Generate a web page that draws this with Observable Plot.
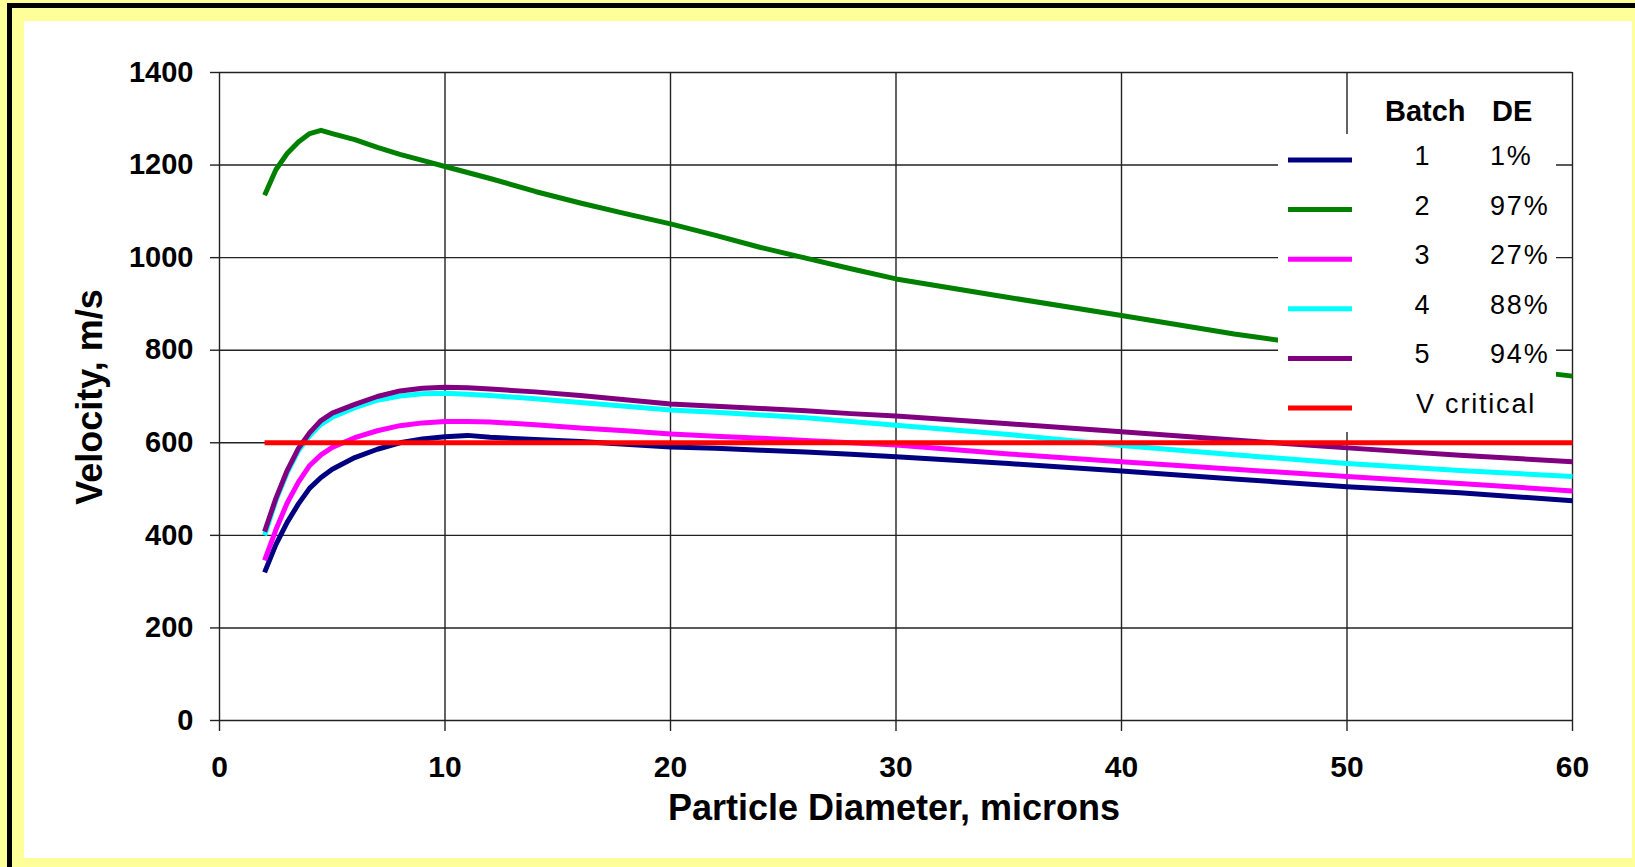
<!DOCTYPE html>
<html>
<head>
<meta charset="utf-8">
<script src="https://cdn.jsdelivr.net/npm/d3@7"></script>
<script src="https://cdn.jsdelivr.net/npm/@observablehq/plot@0.6"></script>
<style>
html, body { margin: 0; padding: 0; background: #ffff99; }
#frame { position: relative; width: 1635px; height: 867px; background: #ffff99; overflow: hidden; }
#bt { position: absolute; left: 7px; top: 3px; right: 0; height: 5px; background: #000; }
#bl { position: absolute; left: 7px; top: 3px; width: 5px; bottom: 0; background: #000; }
#inner { position: absolute; left: 24px; top: 21px; width: 1608px; height: 837px; background: #fff; }
#chart { position: absolute; left: 0; top: 0; }
</style>
</head>
<body>
<div id="frame"><div id="bt"></div><div id="bl"></div><div id="inner"></div><div id="chart"></div></div>
<script>
// ---- data ----
const diameters = [2, 2.5, 3, 3.5, 4, 4.5, 5, 6, 7, 8, 9, 10, 11, 12, 14, 16, 18, 20, 22, 24, 26, 28, 30, 35, 40, 45, 50, 55, 60];
const batch1 = [320, 380, 428, 468, 502, 525, 543, 568, 586, 600, 608, 613, 616, 612, 607, 603, 597, 591, 588, 584, 580, 575, 570, 555, 539, 522, 505, 492, 475];
const batch2 = [1135, 1190, 1225, 1250, 1268, 1275, 1268, 1255, 1238, 1223, 1210, 1197, 1184, 1171, 1143, 1118, 1095, 1073, 1048, 1022, 999, 976, 954, 914, 875, 835, 801, 772, 744];
const batch3 = [346, 412, 470, 515, 551, 574, 590, 611, 626, 637, 643, 646, 646, 645, 639, 632, 626, 619, 614, 610, 605, 600, 595, 576, 559, 543, 527, 512, 496];
const batch4 = [400, 475, 535, 583, 615, 640, 655, 676, 692, 701, 706, 707, 705, 702, 695, 687, 679, 671, 666, 660, 654, 646, 638, 618, 594, 574, 555, 540, 527];
const batch5 = [408, 480, 540, 588, 622, 648, 664, 683, 700, 712, 718, 720, 719, 716, 710, 702, 693, 684, 679, 674, 669, 663, 658, 641, 624, 606, 589, 573, 559];
const vCritical = 600;
const vCriticalRange = [2, 60];

const seriesNames = ["1", "2", "3", "4", "5", "V critical"];
const deLabels = ["1%", "97%", "27%", "88%", "94%", ""];
const seriesColors = ["#000080", "#008000", "#ff00ff", "#00ffff", "#800080", "#ff0000"];

const xTicks = [0, 10, 20, 30, 40, 50, 60];
const yTicks = [0, 200, 400, 600, 800, 1000, 1200, 1400];

// ---- build table ----
const batches = [batch1, batch2, batch3, batch4, batch5];
const rows = [];
batches.forEach((vals, i) => {
  vals.forEach((v, j) => rows.push({series: seriesNames[i], d: diameters[j], v}));
});
vCriticalRange.forEach(d => rows.push({series: "V critical", d, v: vCritical}));

const FONT = "'Liberation Sans', Arial, Helvetica, sans-serif";
const W = 1635, H = 867;

const chart = Plot.plot({
  width: W,
  height: H,
  marginLeft: 219,
  marginRight: 63,
  marginTop: 72,
  marginBottom: 147,
  style: {background: "transparent", fontFamily: FONT, color: "#000", overflow: "visible"},
  x: {domain: [0, 60]},
  y: {domain: [0, 1400]},
  color: {domain: seriesNames, range: seriesColors},
  marks: [
    Plot.gridX(xTicks, {stroke: "#222", strokeOpacity: 1, strokeWidth: 1.4}),
    Plot.gridY(yTicks, {stroke: "#222", strokeOpacity: 1, strokeWidth: 1.4}),
    Plot.axisX(xTicks, {tickSize: 11, tickPadding: 24, fontSize: 30, fontWeight: "bold", label: null, stroke: "#222", strokeWidth: 1.4, tickFormat: d => String(d)}),
    Plot.axisY(yTicks, {tickSize: 9, tickPadding: 17, fontSize: 29, fontWeight: "bold", label: null, stroke: "#222", strokeWidth: 1.4, tickFormat: d => String(d)}),
    Plot.line(rows, {x: "d", y: "v", z: "series", stroke: "series", strokeWidth: 5, strokeLinejoin: "round", strokeLinecap: "butt"})
  ]
});

document.getElementById("chart").appendChild(chart);

// ---- titles and legend ----
const svg = d3.select(chart);

svg.append("text")
  .attr("transform", "translate(102,397) rotate(-90)")
  .attr("text-anchor", "middle")
  .style("font", `bold 36px ${FONT}`)
  .attr("fill", "#000")
  .text("Velocity, m/s");

svg.append("text")
  .attr("x", 894).attr("y", 820)
  .attr("text-anchor", "middle")
  .style("font", `bold 36px ${FONT}`)
  .attr("fill", "#000")
  .text("Particle Diameter, microns");

// legend box (covers grid and lines like the original)
svg.append("rect")
  .attr("x", 1278).attr("y", 134).attr("width", 278).attr("height", 298)
  .attr("fill", "#fff");

svg.append("text").attr("x", 1385).attr("y", 121).attr("text-anchor", "start")
  .style("font", `bold 29px ${FONT}`).attr("fill", "#000").text("Batch");
svg.append("text").attr("x", 1492).attr("y", 121).attr("text-anchor", "start")
  .style("font", `bold 29px ${FONT}`).attr("fill", "#000").text("DE");

const legend = svg.append("g");
seriesNames.forEach((name, i) => {
  const y = 160 + i * 49.6;
  legend.append("line")
    .attr("x1", 1288).attr("x2", 1352).attr("y1", y).attr("y2", y)
    .attr("stroke", seriesColors[i]).attr("stroke-width", 5);
  if (name === "V critical") {
    legend.append("text").attr("x", 1416).attr("y", y + 5).attr("text-anchor", "start")
      .style("font", `27px ${FONT}`).style("letter-spacing", "1.8px")
      .attr("fill", "#000").text(name);
  } else {
    legend.append("text").attr("x", 1422).attr("y", y + 5)
      .attr("text-anchor", "middle")
      .style("font", `27px ${FONT}`)
      .attr("fill", "#000").text(name);
    legend.append("text").attr("x", 1490).attr("y", y + 5).attr("text-anchor", "start")
      .style("font", `27px ${FONT}`).style("letter-spacing", "1.8px")
      .attr("fill", "#000").text(deLabels[i]);
  }
});
</script>
</body>
</html>
